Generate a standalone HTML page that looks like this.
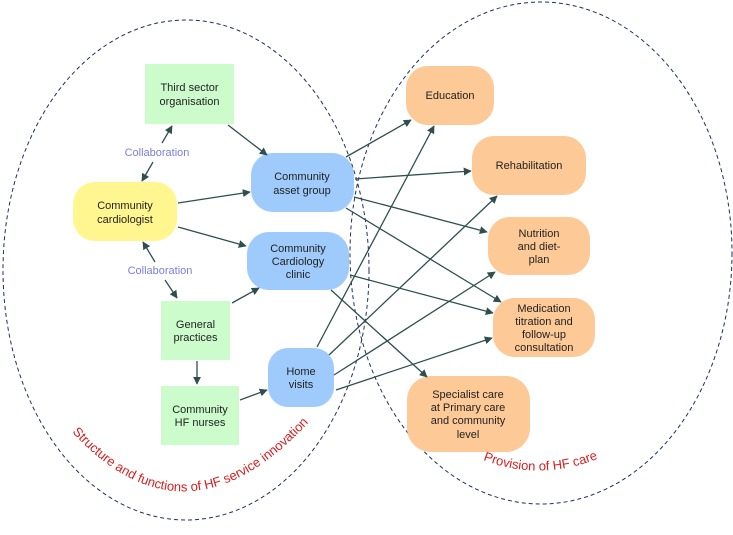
<!DOCTYPE html>
<html><head><meta charset="utf-8"><style>
html,body{margin:0;padding:0;background:#fff;}
svg{display:block;font-family:"Liberation Sans",sans-serif;}
.t{font-size:11px;fill:#222;text-anchor:middle;}
.c{font-size:11px;fill:#7a7ee0;text-anchor:middle;}
.a{stroke:#2f4f4f;stroke-width:1.3;fill:none;marker-end:url(#ah);}
.b{stroke:#2f4f4f;stroke-width:1.3;fill:none;}
</style></head><body>
<svg width="733" height="535" viewBox="0 0 733 535" xmlns="http://www.w3.org/2000/svg">
<defs>
<marker id="ah" viewBox="0 0 10 10" refX="9" refY="5" markerWidth="8" markerHeight="8" markerUnits="userSpaceOnUse" orient="auto"><path d="M0,0 L10,5 L0,10 z" fill="#2f4f4f"/></marker>
<path id="p1" d="M 72 432 Q 190 560 318 412"/>
<path id="p2" d="M 483 460 Q 540 482 600 458"/>
</defs>
<ellipse cx="186" cy="270" rx="183" ry="250" fill="none" stroke="#1f2f5f" stroke-width="1" stroke-dasharray="4,3"/>
<ellipse cx="541" cy="253" rx="191" ry="251" fill="none" stroke="#1f2f5f" stroke-width="1" stroke-dasharray="4,3"/>

<!-- nodes -->
<rect x="145" y="64" width="89" height="60" fill="#ccfccc"/>
<text class="t" x="189.5" y="91">Third sector</text><text class="t" x="189.5" y="105">organisation</text>
<rect x="73" y="182" width="104" height="59" rx="22" fill="#fff68f"/>
<text class="t" x="125" y="209">Community</text><text class="t" x="125" y="223">cardiologist</text>
<rect x="251" y="153" width="103" height="59" rx="22" fill="#9ecbfb"/>
<text class="t" x="302" y="180">Community</text><text class="t" x="302" y="194">asset group</text>
<rect x="247" y="232" width="102" height="58" rx="22" fill="#9ecbfb"/>
<text class="t" x="298" y="252">Community</text><text class="t" x="298" y="265">Cardiology</text><text class="t" x="298" y="278">clinic</text>
<rect x="161" y="301" width="69" height="59" fill="#ccfccc"/>
<text class="t" x="195.5" y="328">General</text><text class="t" x="195.5" y="341">practices</text>
<rect x="161" y="386" width="78" height="59" fill="#ccfccc"/>
<text class="t" x="200" y="413">Community</text><text class="t" x="200" y="426">HF nurses</text>
<rect x="268" y="348" width="66" height="59" rx="20" fill="#9ecbfb"/>
<text class="t" x="301" y="375">Home</text><text class="t" x="301" y="388">visits</text>

<rect x="406" y="66" width="88" height="59" rx="22" fill="#fdc996"/>
<text class="t" x="450" y="99">Education</text>
<rect x="472" y="136" width="114" height="59" rx="22" fill="#fdc996"/>
<text class="t" x="529" y="169">Rehabilitation</text>
<rect x="488" y="217" width="102" height="58" rx="22" fill="#fdc996"/>
<text class="t" x="539" y="237">Nutrition</text><text class="t" x="539" y="250">and diet-</text><text class="t" x="539" y="263">plan</text>
<rect x="493" y="298" width="102" height="59" rx="22" fill="#fdc996"/>
<text class="t" x="544" y="312">Medication</text><text class="t" x="544" y="325">titration and</text><text class="t" x="544" y="338">follow-up</text><text class="t" x="544" y="351">consultation</text>
<rect x="407" y="376" width="123" height="76" rx="24" fill="#fdc996"/>
<text class="t" x="468" y="398">Specialist care</text><text class="t" x="468" y="411">at Primary care</text><text class="t" x="468" y="424">and community</text><text class="t" x="468" y="438">level</text>

<!-- collaboration -->
<text class="c" x="157" y="156">Collaboration</text>
<text class="c" x="160" y="274">Collaboration</text>
<path class="a" d="M162 143 L172 126"/>
<path class="a" d="M153 162 L142 181"/>
<path class="a" d="M155 262 L143 242"/>
<path class="a" d="M165 280 L177 298"/>

<!-- arrows -->
<path class="a" d="M228 125 L267 155"/>
<path class="a" d="M178 203 L250 192"/>
<path class="a" d="M178 227 L246 246"/>
<path class="a" d="M232 303 L259 288"/>
<path class="a" d="M197 361 L197 384"/>
<path class="a" d="M240 400 L267 390"/>
<path class="a" d="M346 157 L411 120"/>
<path class="a" d="M355 179 L471 171"/>
<path class="a" d="M354 197 L487 232"/>
<path class="a" d="M346 208 L501 302"/>
<path class="a" d="M350 275 L493 313"/>
<path class="a" d="M331 290 L427 377"/>
<path class="a" d="M317 347 L434 126"/>
<path class="a" d="M329 355 L497 196"/>
<path class="a" d="M334 375 L495 272"/>
<path class="a" d="M336 390 L492 338"/>

<text font-size="13" fill="#d42020"><textPath href="#p1">Structure and functions of HF service innovation</textPath></text>
<text font-size="13" fill="#d42020"><textPath href="#p2">Provision of HF care</textPath></text>
</svg>
</body></html>
